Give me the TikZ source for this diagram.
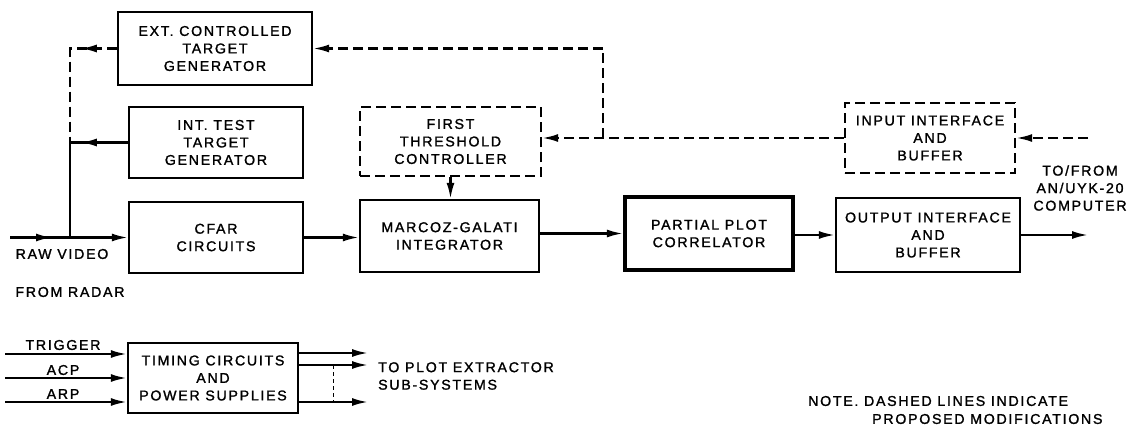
\documentclass[tikz,border=0pt]{standalone}
\usepackage{fontspec}
\newfontfamily\lblfont{Liberation Sans}[LetterSpace=12, FakeBold=1.4]
\usetikzlibrary{arrows.meta}
\begin{document}
\begin{tikzpicture}[x=1pt,y=-1pt,
  txt/.style={font=\lblfont\fontsize{14.2}{17.5}\selectfont, align=center, inner sep=0pt},
  blk/.style={txt, draw, line width=2.4pt, minimum width=#1, minimum height=71pt},
  dblk/.style={blk=#1, dash pattern=on 10pt off 5pt},
  arr/.style={-{Latex[length=16pt,width=8pt]}},
  conn/.style={line width=2.2pt},
  dsh/.style={dash pattern=on 10pt off 5pt}
]
\useasboundingbox (0,0) rectangle (1138,428);

% blocks
\node[blk=194pt, minimum height=73pt] (ext) at (215,48.5) {EXT. CONTROLLED\\TARGET\\GENERATOR};
\node[blk=174pt] (int) at (216,142.5) {INT. TEST\\TARGET\\GENERATOR};
\node[blk=174pt] (cfar) at (216,237.5) {CFAR\\CIRCUITS};
\node[dblk=181pt, minimum height=69pt] (thr) at (450.5,141.5) {FIRST\\THRESHOLD\\CONTROLLER};
\node[blk=179pt, minimum height=72pt] (mg) at (449.5,236) {MARCOZ-GALATI\\INTEGRATOR};
\node[blk=168pt, minimum height=73pt, line width=4.2pt] (ppc) at (709,233.5) {PARTIAL PLOT\\CORRELATOR};
\node[blk=184pt, minimum height=74pt] (out) at (928,235) {OUTPUT INTERFACE\\AND\\BUFFER};
\node[dblk=170pt, minimum height=70pt] (inp) at (930,138) {INPUT INTERFACE\\AND\\BUFFER};
\node[blk=170pt, minimum height=70pt] (tim) at (213,378) {TIMING CIRCUITS\\AND\\POWER SUPPLIES};

% coordinates
\coordinate (c1) at (70,142.5);
\coordinate (c2) at (70,237.5);
\coordinate (rv) at (10,237.5);
\coordinate (j) at (603,138);
\coordinate (cin) at (1088,138);
\coordinate (cout) at (1088,235);
\coordinate (t1) at (5,354);
\coordinate (t2) at (5,378);
\coordinate (t3) at (5,402);
\coordinate (o1) at (368,353);
\coordinate (o2) at (368,365);
\coordinate (o3) at (368,402);
\coordinate (d1) at (333,365);
\coordinate (d2) at (333,402);

% left feedback paths
\draw[conn,dsh] (ext.west) -| (c1);
\draw[conn,dsh,arr] (ext.west) -- ++(-36,0);
\draw[conn] (int.west) -- (c1) -- (c2);
\draw[conn,arr] (int.west) -- ++(-47,0);
\draw[conn,arr] (rv) -- (cfar.west);
\draw[conn,arr] (rv) -- ++(42,0);

% main chain
\draw[conn,arr] (cfar.east) -- (cfar.east -| mg.west);
\draw[conn,arr] (thr.south) -- (thr.south |- mg.north);
\draw[conn,arr] (mg.east |- ppc.west) -- (ppc.west);
\draw[conn,arr] (ppc.east |- out.west) -- (out.west);
\draw[conn,arr] (out.east) -- (cout);

% dashed input paths
\draw[conn,dsh,arr] (cin) -- (inp.east);
\draw[conn,dsh,arr] (inp.west) -- (inp.west -| thr.east);
\draw[conn,dsh,arr] (j) |- (ext.east);

% timing
\draw[conn,arr] (t1) -- (t1 -| tim.west);
\draw[conn,arr] (t2) -- (t2 -| tim.west);
\draw[conn,arr] (t3) -- (t3 -| tim.west);
\draw[conn,arr] (o1 -| tim.east) -- (o1);
\draw[conn,arr] (o2 -| tim.east) -- (o2);
\draw[conn,arr] (o3 -| tim.east) -- (o3);
\draw[line width=1pt, dash pattern=on 4pt off 3pt] (d1) -- (d2);

% labels
\node[txt] (rvl) at (62,254) {RAW VIDEO};
\node[txt] (frl) at (70,292) {FROM RADAR};
\node[txt] (trg) at (63,345) {TRIGGER};
\node[txt] (acp) at (63,370) {ACP};
\node[txt] (arp) at (63,394) {ARP};
\node[txt, align=left, anchor=west] (tpe) at (378,376) {TO PLOT EXTRACTOR\\SUB-SYSTEMS};
\node[txt] (tof) at (1080,188) {TO/FROM\\AN/UYK-20\\COMPUTER};
\node[txt, anchor=west] (note1) at (808,401) {NOTE. DASHED LINES INDICATE};
\node[txt, anchor=west] (note2) at (872,419) {PROPOSED MODIFICATIONS};
\end{tikzpicture}
\end{document}
